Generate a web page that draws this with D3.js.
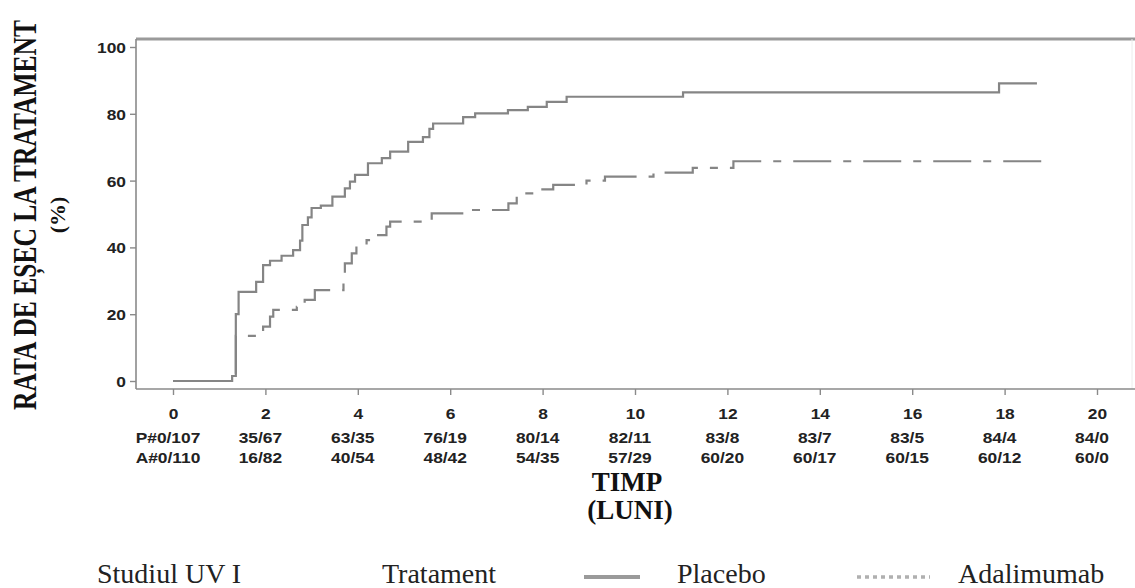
<!DOCTYPE html>
<html>
<head>
<meta charset="utf-8">
<script src="https://cdn.jsdelivr.net/npm/d3@7"></script>
<style>
    body { margin: 0; background: #fff; }
    svg { display: block; }
    .tick-label { font-family: "Liberation Sans", Arial, sans-serif; font-weight: bold; font-size: 15.5px; fill: #222; }
    .title { font-family: "Liberation Serif", "Times New Roman", serif; font-weight: bold; fill: #111; }
    .legend { font-family: "Liberation Serif", "Times New Roman", serif; font-size: 28px; fill: #222; }
</style>
</head>
<body>
<svg width="1135" height="588"></svg>
<script>
"use strict";

// Months on the x axis
var months = [0, 2, 4, 6, 8, 10, 12, 14, 16, 18, 20];

// Number at risk rows (events / at risk)
var placeboRisk = ["P#0/107", "35/67", "63/35", "76/19", "80/14", "82/11", "83/8", "83/7", "83/5", "84/4", "84/0"];
var adalimumabRisk = ["A#0/110", "16/82", "40/54", "48/42", "54/35", "57/29", "60/20", "60/17", "60/15", "60/12", "60/0"];

// Y ticks
var yTicks = [0, 20, 40, 60, 80, 100];

// Cumulative treatment failure (%) - [month, value]
var placeboSteps = [
    [0, 0], [1.28, 1.5], [1.36, 20], [1.42, 26.7],
    [1.8, 29.7], [1.95, 34.7], [2.1, 36], [2.35, 37.5], [2.6, 39.2],
    [2.75, 42], [2.8, 46.7], [2.92, 49], [3.0, 51.8], [3.2, 52.5],
    [3.45, 55.2], [3.72, 57.7], [3.83, 59.7], [3.94, 61.7], [4.22, 65.2],
    [4.52, 66.7], [4.7, 68.7], [5.09, 71.6], [5.41, 73], [5.55, 75.5],
    [5.63, 77.1], [6.28, 79], [6.54, 80.1], [7.25, 81.1], [7.68, 82.1],
    [8.09, 83.6], [8.52, 85.1], [11.04, 86.4], [17.88, 89.1], [18.7, 89.1]
];

var adalimumabSteps = [
    [0, 0], [1.36, 13.5], [1.85, 14.8], [1.95, 16.3], [2.1, 19.3],
    [2.17, 21.3], [2.68, 22.2], [2.85, 24.3], [3.07, 27.2], [3.69, 32],
    [3.72, 35.2], [3.87, 38.2], [3.97, 40.7], [4.19, 42.2], [4.41, 43.7],
    [4.62, 46.2], [4.7, 47.7], [5.6, 50.2], [6.4, 51.2], [7.26, 53.2],
    [7.44, 56.2], [7.91, 57.4], [8.23, 58.7], [8.95, 60], [9.35, 61.2],
    [10.4, 62.4], [11.25, 63.8], [12.13, 65.8], [18.9, 65.8]
];

// Legend texts
var legendTexts = ["Studiul UV I", "Tratament", "Placebo", "Adalimumab"];

var svg = d3.select("svg");

// Scales
var xScale = d3.scaleLinear().domain([0, 20]).range([173, 1097]);
var yScale = d3.scaleLinear().domain([0, 100]).range([381, 47]);

var frameLeft = 136, frameTop = 39, frameBottom = 389, frameRight = 1135;

// Frame
svg.append("line")
    .attr("x1", frameLeft).attr("x2", frameRight)
    .attr("y1", frameTop).attr("y2", frameTop)
    .attr("stroke", "#9a9a9a").attr("stroke-width", 3);
svg.append("line")
    .attr("x1", frameRight - 3).attr("x2", frameRight - 3)
    .attr("y1", frameTop).attr("y2", frameBottom)
    .attr("stroke", "#ececec").attr("stroke-width", 1);
svg.append("line")
    .attr("x1", frameLeft).attr("x2", frameLeft)
    .attr("y1", frameTop).attr("y2", frameBottom)
    .attr("stroke", "#8a8a8a").attr("stroke-width", 1.6);
svg.append("line")
    .attr("x1", frameLeft).attr("x2", frameRight)
    .attr("y1", frameBottom).attr("y2", frameBottom)
    .attr("stroke", "#8a8a8a").attr("stroke-width", 1.6);

// Y axis
var yAxis = svg.append("g")
    .attr("transform", "translate(" + frameLeft + ",0)")
    .call(d3.axisLeft(yScale).tickValues(yTicks).tickSize(6));
yAxis.select(".domain").remove();
yAxis.selectAll("line").attr("stroke", "#8a8a8a").attr("stroke-width", 1.4);
yAxis.selectAll("text")
    .attr("class", "tick-label")
    .attr("x", 0)
    .attr("dy", "0.36em")
    .attr("transform", "translate(-10,0) scale(1.12,1)");

// X axis
var xAxis = svg.append("g")
    .attr("transform", "translate(0," + frameBottom + ")")
    .call(d3.axisBottom(xScale).tickValues(months).tickSize(6));
xAxis.select(".domain").remove();
xAxis.selectAll("line").attr("stroke", "#8a8a8a").attr("stroke-width", 1.4);
xAxis.selectAll("text")
    .attr("class", "tick-label")
    .attr("y", 30)
    .attr("dy", null)
    .attr("transform", "scale(1.12,1)");

// At-risk rows
var riskRow = function (labels, y) {
    svg.append("g").selectAll("text")
        .data(labels)
        .enter().append("text")
            .attr("class", "tick-label")
            .attr("text-anchor", "middle")
            .attr("transform", function (d, i) {
                return "translate(" + (xScale(months[i]) - 5) + "," + y + ") scale(1.12,1)";
            })
            .text(function (d) { return d; });
};
riskRow(placeboRisk, 443);
riskRow(adalimumabRisk, 463);

// Curves
var line = d3.line()
    .x(function (d) { return xScale(d[0]); })
    .y(function (d) { return yScale(d[1]); })
    .curve(d3.curveStepAfter);

svg.append("path")
    .datum(placeboSteps)
    .attr("d", line)
    .attr("fill", "none")
    .attr("stroke", "#858585")
    .attr("stroke-width", 2.2);

svg.append("path")
    .datum(adalimumabSteps)
    .attr("d", line)
    .attr("fill", "none")
    .attr("stroke", "#858585")
    .attr("stroke-width", 2.2)
    .attr("stroke-dasharray", "38,12,8,12");

// Axis titles - y title is squat in the original, so stretch it across
var yTitle = svg.append("text")
    .attr("class", "title")
    .attr("text-anchor", "middle")
    .attr("font-size", 22)
    .text("RATA DE EȘEC LA TRATAMENT");
var titleLen = yTitle.node().getComputedTextLength();
yTitle.attr("transform", "translate(36,215) rotate(-90) scale(" + (390 / titleLen) + ",1.55)");

svg.append("text")
    .attr("class", "title")
    .attr("transform", "translate(65,215) rotate(-90)")
    .attr("text-anchor", "middle")
    .attr("font-size", 22)
    .text("(%)");

svg.append("text")
    .attr("class", "title")
    .attr("x", 627).attr("y", 491)
    .attr("text-anchor", "middle")
    .attr("font-size", 27)
    .text("TIMP");

svg.append("text")
    .attr("class", "title")
    .attr("x", 630).attr("y", 519)
    .attr("text-anchor", "middle")
    .attr("font-size", 27)
    .text("(LUNI)");

// Legend
var legendX = [97, 382, 677, 958];
svg.append("g").selectAll("text")
    .data(legendTexts)
    .enter().append("text")
        .attr("class", "legend")
        .attr("x", function (d, i) { return legendX[i]; })
        .attr("y", 583)
        .text(function (d) { return d; });

svg.append("line")
    .attr("x1", 584).attr("x2", 640)
    .attr("y1", 577).attr("y2", 577)
    .attr("stroke", "#9a9a9a").attr("stroke-width", 4);

svg.append("line")
    .attr("x1", 857).attr("x2", 930)
    .attr("y1", 577).attr("y2", 577)
    .attr("stroke", "#b0b0b0").attr("stroke-width", 3.5)
    .attr("stroke-dasharray", "4,4");
</script>
</body>
</html>
